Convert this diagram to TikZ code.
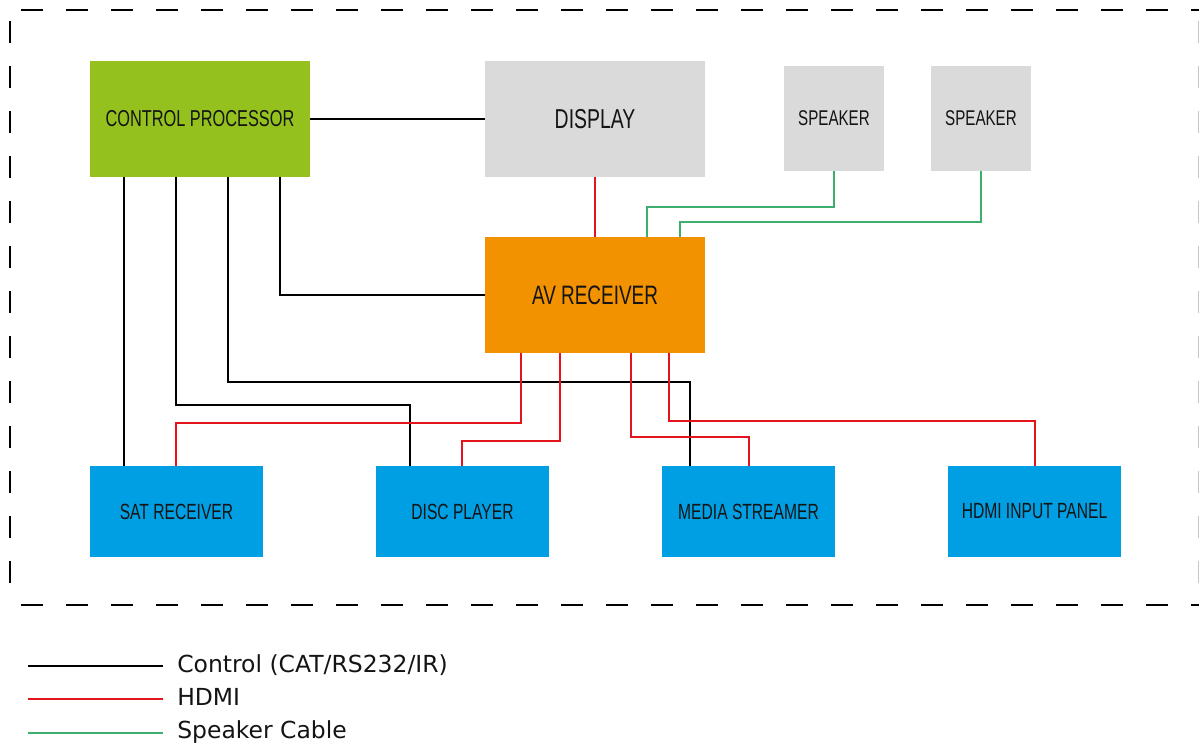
\documentclass[tikz,border=0pt]{standalone}
\usepackage{graphicx}
\usepackage{fontspec}
\setmainfont{Liberation Sans}
\newfontfamily\legendfont{DejaVu Sans}
\definecolor{cpgreen}{HTML}{95C11F}
\definecolor{dispgray}{HTML}{DADADA}
\definecolor{avorange}{HTML}{F39200}
\definecolor{devblue}{HTML}{009FE3}
\definecolor{hdmired}{HTML}{E3141E}
\definecolor{spkgreen}{HTML}{3DAE6B}
\definecolor{labelink}{HTML}{141414}
\newcommand\narrowtext[1]{\scalebox{0.71}[1]{#1}}
\tikzset{
  unitbox/.style={draw=none, inner sep=0pt, text=labelink},
  bigbox/.style={unitbox, minimum width=165pt, minimum height=87pt},
  spkbox/.style={unitbox, fill=dispgray, minimum width=75pt, minimum height=78.75pt,
    font=\fontsize{16}{16}\selectfont},
  devbox/.style={unitbox, fill=devblue, minimum width=129.75pt, minimum height=68.25pt,
    font=\fontsize{16.5}{16.5}\selectfont},
  wire/.style={line width=1.5pt},
  ctrl/.style={wire, black},
  hdmi/.style={wire, hdmired},
  spk/.style={wire, spkgreen},
  boundary/.style={line width=1.5pt, dash pattern=on 16.5pt off 17.25pt},
  legendtext/.style={anchor=base west, inner sep=0pt, font=\legendfont\fontsize{17.6}{17.6}\selectfont, text=labelink},
}
\begin{document}
\begin{tikzpicture}[x=0.75pt, y=-0.75pt]
\useasboundingbox (0,0) rectangle (1199,743);

% system boundary (each side starts with a short gap at the corner)
\draw[boundary, dash phase=25.5pt] (10,10) -- (1199,10);
\draw[boundary, dash phase=25.5pt] (10,10) -- (10,605);
\draw[boundary, dash phase=25.5pt] (10,605) -- (1199,605);
\draw[boundary, gray!45, dash phase=25.5pt] (1199,10) -- (1199,605);

% equipment
\node[bigbox, fill=cpgreen, font=\fontsize{17.25}{17.25}\selectfont] (cp) at (200,119) {\narrowtext{CONTROL PROCESSOR}};
\node[bigbox, fill=dispgray, font=\fontsize{20.5}{20.5}\selectfont] (disp) at (595,119) {\narrowtext{DISPLAY}};
\node[spkbox] (spk1) at (834,118.5) {\narrowtext{SPEAKER}};
\node[spkbox] (spk2) at (981,118.5) {\narrowtext{SPEAKER}};
\node[bigbox, fill=avorange, font=\fontsize{20}{20}\selectfont] (avr) at (595,295) {\narrowtext{AV RECEIVER}};
\node[devbox] (sat) at (176.5,511.5) {\narrowtext{SAT RECEIVER}};
\node[devbox] (disc) at (462.5,511.5) {\narrowtext{DISC PLAYER}};
\node[devbox] (media) at (748.5,511.5) {\narrowtext{MEDIA STREAMER}};
\node[devbox] (panel) at (1034.5,511.5) {\narrowtext{HDMI INPUT PANEL}};

% control wiring
\draw[ctrl] (cp.east) -- (disp.west);
\draw[ctrl] (cp.south -| 280,0) |- (avr.west);
\draw[ctrl] (cp.south -| 228,0) |- (690,382) -- (media.north -| 690,0);
\draw[ctrl] (cp.south -| 176,0) |- (410,405) -- (disc.north -| 410,0);
\draw[ctrl] (cp.south -| 124,0) -- (sat.north -| 124,0);

% HDMI wiring
\draw[hdmi] (disp.south) -- (avr.north);
\draw[hdmi] (avr.south -| 521,0) |- (176,423) -- (sat.north -| 176,0);
\draw[hdmi] (avr.south -| 560,0) |- (462,441) -- (disc.north -| 462,0);
\draw[hdmi] (avr.south -| 631,0) |- (749,437) -- (media.north -| 749,0);
\draw[hdmi] (avr.south -| 669,0) |- (1035,421) -- (panel.north -| 1035,0);

% speaker wiring
\draw[spk] (spk1.south) |- (647,207) -- (avr.north -| 647,0);
\draw[spk] (spk2.south) |- (680,222) -- (avr.north -| 680,0);

% legend
\coordinate (lgA1) at (28,666);  \coordinate (lgA2) at (163,666);
\coordinate (lgB1) at (28,699);  \coordinate (lgB2) at (163,699);
\coordinate (lgC1) at (28,733);  \coordinate (lgC2) at (163,733);
\draw[ctrl] (lgA1) -- (lgA2);
\draw[hdmi] (lgB1) -- (lgB2);
\draw[spk]  (lgC1) -- (lgC2);
\node[legendtext] (lgAt) at (177,672) {Control (CAT/RS232/IR)};
\node[legendtext] (lgBt) at (177,705) {HDMI};
\node[legendtext] (lgCt) at (177,738) {Speaker Cable};
\end{tikzpicture}
\end{document}
